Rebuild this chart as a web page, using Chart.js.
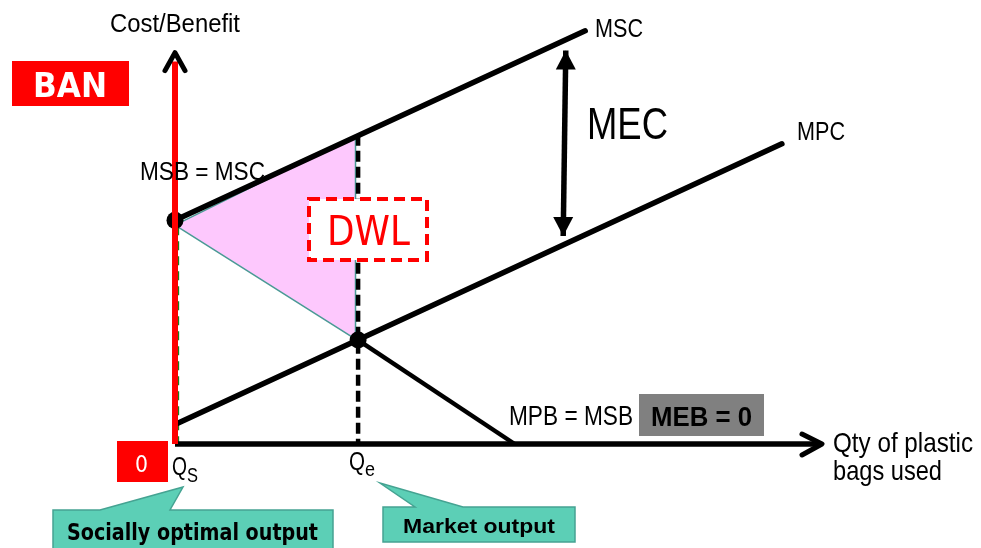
<!DOCTYPE html>
<html>
<head>
<meta charset="utf-8">
<script src="https://cdn.jsdelivr.net/npm/chart.js@4"></script>
<style>
  body { margin: 0; background: #fff; }
  #wrap { width: 981px; height: 548px; position: relative; }
</style>
</head>
<body>
<div id="wrap"><canvas id="diagram" width="981" height="548"></canvas></div>
<script>
// quantity (x) and cost/benefit (y) values
const mscQ = [0, 63.4];
const mscP = [57, 105.3];
const mpcQ = [0, 93.8];
const mpcP = [5, 76.5];
// black part of MPB = MSB, below the market point
const msbQ = [28.3, 52.5];
const msbP = [26.5, 0];
const dwlQ = [0, 27.9, 27.9, 0];
const dwlP = [55.8, 78.6, 26.7, 55.8];
const marketQ = 28.3;
const marketP = 26.5;
const marketMsc = 78.8;
const socialQ = 0;
const socialP = 57;
const mecQ = [60.4, 60.0];
const mecP = [100.3, 53];
const axisEnd = 100;

const pts = (qs, ps) => qs.map((q, i) => ({ x: q, y: ps[i] }));

function fitText(ctx, text, x, baseline, width, font, color) {
  ctx.save();
  ctx.font = font;
  const w = ctx.measureText(text).width;
  ctx.translate(x, baseline);
  ctx.scale(width / w, 1);
  ctx.fillStyle = color;
  ctx.textBaseline = 'alphabetic';
  ctx.fillText(text, 0, 0);
  ctx.restore();
}

function chevron(ctx, tipX, tipY, dx1, dy1, dx2, dy2) {
  ctx.save();
  ctx.strokeStyle = '#000';
  ctx.lineWidth = 5;
  ctx.lineCap = 'round';
  ctx.lineJoin = 'round';
  ctx.beginPath();
  ctx.moveTo(tipX + dx1, tipY + dy1);
  ctx.lineTo(tipX, tipY);
  ctx.lineTo(tipX + dx2, tipY + dy2);
  ctx.stroke();
  ctx.restore();
}

function filledHead(ctx, tipX, tipY, baseY, half) {
  ctx.beginPath();
  ctx.moveTo(tipX, tipY);
  ctx.lineTo(tipX - half, baseY);
  ctx.lineTo(tipX + half, baseY);
  ctx.closePath();
  ctx.fillStyle = '#000';
  ctx.fill();
}

function callout(ctx, box, tip, baseL, baseR) {
  ctx.save();
  ctx.beginPath();
  ctx.moveTo(box.x, box.y);
  ctx.lineTo(baseL, box.y);
  ctx.lineTo(tip.x, tip.y);
  ctx.lineTo(baseR, box.y);
  ctx.lineTo(box.x + box.w, box.y);
  ctx.lineTo(box.x + box.w, box.y + box.h);
  ctx.lineTo(box.x, box.y + box.h);
  ctx.closePath();
  ctx.fillStyle = '#5ccfb6';
  ctx.fill();
  ctx.strokeStyle = '#45a392';
  ctx.lineWidth = 1.5;
  ctx.stroke();
  ctx.restore();
}

const overlay = {
  id: 'overlay',
  afterDraw(chart) {
    const { ctx } = chart;
    const sx = chart.scales.x;
    const sy = chart.scales.y;
    const px = (v) => sx.getPixelForValue(v);
    const py = (v) => sy.getPixelForValue(v);

    // axis arrowheads
    chevron(ctx, px(0), py(axisEnd) + 1, -10, 18, 10, 18);
    chevron(ctx, px(axisEnd), py(0), -20, -10, -20, 11);

    // MEC double arrow heads
    filledHead(ctx, px(mecQ[0]), py(mecP[0]), py(mecP[0]) + 19, 10);
    filledHead(ctx, px(mecQ[1]), py(mecP[1]), py(mecP[1]) - 19, 10);

    // BAN box
    ctx.fillStyle = '#ff0000';
    ctx.fillRect(12, 61, 117, 45);
    fitText(ctx, 'BAN', 33, 97, 74, 'bold 33px "DejaVu Sans"', '#fff');

    // zero box
    ctx.fillStyle = '#ff0000';
    ctx.fillRect(117, 441, 51, 41);
    fitText(ctx, '0', 135, 472, 13, '23px "DejaVu Sans"', '#fff');

    // DWL dashed box
    ctx.save();
    ctx.fillStyle = '#fff';
    ctx.fillRect(309, 199, 118, 61);
    ctx.strokeStyle = '#ff0000';
    ctx.lineWidth = 4;
    ctx.setLineDash([11, 6]);
    ctx.strokeRect(309, 199, 118, 61);
    ctx.restore();
    fitText(ctx, 'DWL', 327, 245, 83, '40px "DejaVu Sans"', '#ff0000');

    // MEB box
    ctx.fillStyle = '#808080';
    ctx.fillRect(639, 394, 125, 42);
    fitText(ctx, 'MEB = 0', 651, 426, 101, 'bold 28px "Liberation Sans"', '#000');

    const narrow = '"Liberation Sans Narrow", "Liberation Sans"';
    fitText(ctx, 'Cost/Benefit', 110, 32, 130, `26px ${narrow}`, '#000');
    fitText(ctx, 'MSB = MSC', 140, 180, 125, `25px ${narrow}`, '#000');
    fitText(ctx, 'MSC', 595, 37, 48, `26px ${narrow}`, '#000');
    fitText(ctx, 'MEC', 587, 139, 81, `45px ${narrow}`, '#000');
    fitText(ctx, 'MPC', 797, 140, 48, `25px ${narrow}`, '#000');
    fitText(ctx, 'MPB = MSB', 509, 425, 124, `27px ${narrow}`, '#000');
    fitText(ctx, 'Qty of plastic', 833, 452, 140, `28px ${narrow}`, '#000');
    fitText(ctx, 'bags used', 833, 480, 109, `28px ${narrow}`, '#000');
    fitText(ctx, 'Q', 172, 475, 15, `25px ${narrow}`, '#000');
    fitText(ctx, 'S', 187, 482, 11, `20px ${narrow}`, '#000');
    fitText(ctx, 'Q', 349, 470, 16, `25px ${narrow}`, '#000');
    fitText(ctx, 'e', 365, 476, 10, `20px ${narrow}`, '#000');

    // callouts
    callout(ctx, { x: 53, y: 510, w: 280, h: 45 }, { x: 183, y: 487 }, 100, 170);
    fitText(ctx, 'Socially optimal output', 67, 540, 251, 'bold 23px "DejaVu Sans"', '#000');
    callout(ctx, { x: 383, y: 507, w: 192, h: 35 }, { x: 380, y: 483 }, 415, 463);
    fitText(ctx, 'Market output', 403, 533, 152, 'bold 21px "Liberation Sans"', '#000');
  }
};

const lineDs = (data, color, width, extra = {}) => Object.assign({
  data,
  showLine: true,
  borderColor: color,
  borderWidth: width,
  pointRadius: 0,
  fill: false,
  clip: false,
  tension: 0,
  borderCapStyle: 'butt',
}, extra);

const datasets = [
  lineDs(pts(dwlQ, dwlP), '#4a9a95', 1.5, { fill: 'shape', backgroundColor: '#fdc8fd', order: 20 }),
  lineDs([{ x: socialQ + 0.45, y: socialP - 1.5 }, { x: socialQ + 0.45, y: 0 }], '#1b7a1b', 2.5, { borderDash: [9, 6], order: 15 }),
  lineDs([{ x: marketQ, y: marketMsc }, { x: marketQ, y: 0 }], '#000', 4.5, { borderDash: [11, 5], order: 15 }),
  lineDs(pts(mscQ, mscP), '#000', 5.5, { borderCapStyle: 'round', order: 10 }),
  lineDs(pts(mpcQ, mpcP), '#000', 5.5, { borderCapStyle: 'round', order: 10 }),
  lineDs(pts(msbQ, msbP), '#000', 4.5, { order: 10 }),
  lineDs(pts(mecQ, mecP), '#000', 5.5, { order: 10 }),
  lineDs([{ x: 0, y: 0 }, { x: axisEnd - 0.5, y: 0 }], '#000', 5.5, { order: 8 }),
  {
    data: [{ x: socialQ, y: socialP }, { x: marketQ, y: marketP }],
    pointRadius: 8.5,
    pointBackgroundColor: '#000',
    pointBorderWidth: 0,
    clip: false,
    order: 5,
  },
  lineDs([{ x: 0, y: 0 }, { x: 0, y: axisEnd - 2.5 }], '#ff0000', 6, { order: 1 }),
];

new Chart(document.getElementById('diagram').getContext('2d'), {
  type: 'scatter',
  data: { datasets },
  options: {
    responsive: false,
    animation: false,
    layout: { padding: { left: 175, right: 159, top: 0, bottom: 104 } },
    scales: {
      x: { type: 'linear', min: 0, max: 100, display: false },
      y: { type: 'linear', min: 0, max: 111, display: false },
    },
    plugins: { legend: { display: false }, tooltip: { enabled: false } },
  },
  plugins: [overlay],
});
</script>
</body>
</html>
